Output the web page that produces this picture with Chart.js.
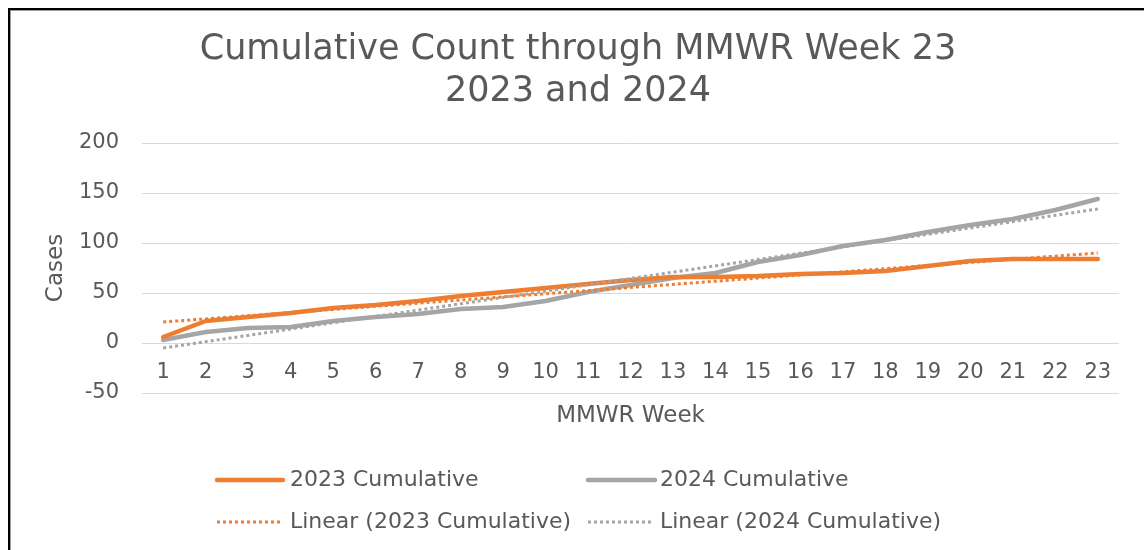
<!DOCTYPE html>
<html>
<head>
<meta charset="utf-8">
<script src="https://cdn.jsdelivr.net/npm/chart.js@4.4.1/dist/chart.umd.min.js"></script>
<style>
  html, body { margin: 0; padding: 0; background: #fff; overflow: hidden; }
  #wrap { position: absolute; left: 0; top: 0; width: 1144px; height: 550px; overflow: hidden; }
  #frame {
    position: absolute; left: 8px; top: 8px; width: 1200px; height: 600px;
    border-top: 2px solid #000; border-left: 2px solid #000;
    box-shadow: inset 1px 1px 0 #9a9a9a;
    pointer-events: none;
  }
</style>
</head>
<body>
<div id="wrap">
  <canvas id="myChart"></canvas>
  <div id="frame"></div>
</div>
<script>
// chart data
const weeks = ['1','2','3','4','5','6','7','8','9','10','11','12','13','14','15','16','17','18','19','20','21','22','23'];
const cum2023 = [6, 22, 26, 30, 35, 38, 42, 47, 51, 55, 59, 63, 66, 66, 67, 69, 70, 72, 77, 82, 84, 84, 84];
const cum2024 = [3, 11, 15, 16, 22, 26, 29, 34, 36, 42, 51, 58, 65, 70, 81, 88, 97, 103, 111, 118, 124, 133, 144];
// trend line ends (week 1 and week 23)
const trendWeeks = ['1', '23'];
const trend2023 = [21, 90];
const trend2024 = [-5, 134];
const yTicks = [-50, 0, 50, 100, 150, 200];

const orange = '#ED7D31';
const gray = '#A5A5A5';
const textColor = '#595959';

Chart.defaults.font.family = 'DejaVu Sans';
Chart.defaults.color = textColor;

// two-column legend like the Excel one
const gridLegend = {
  id: 'gridLegend',
  afterDraw(chart) {
    const ctx = chart.ctx;
    const spots = [
      {x1: 217, x2: 283, tx: 290, y: 480},
      {x1: 588, x2: 655, tx: 660, y: 480},
      {x1: 217, x2: 282, tx: 290, y: 522},
      {x1: 588, x2: 652, tx: 660, y: 522}
    ];
    chart.data.datasets.forEach((ds, i) => {
      const s = spots[i];
      ctx.save();
      ctx.strokeStyle = ds.borderColor;
      ctx.lineWidth = ds.borderWidth;
      ctx.lineCap = ds.borderDash ? 'butt' : 'round';
      ctx.setLineDash(ds.borderDash || []);
      ctx.beginPath();
      ctx.moveTo(s.x1, s.y);
      ctx.lineTo(s.x2, s.y);
      ctx.stroke();
      ctx.setLineDash([]);
      ctx.fillStyle = textColor;
      ctx.font = '22px "DejaVu Sans"';
      ctx.textBaseline = 'middle';
      ctx.textAlign = 'left';
      ctx.fillText(ds.label, s.tx, s.y);
      ctx.restore();
    });
  }
};

function setup() {
  const ctx = document.getElementById('myChart').getContext('2d');
  new Chart(ctx, {
    type: 'line',
    data: {
      labels: weeks,
      datasets: [
        {
          label: '2023 Cumulative',
          data: cum2023,
          borderColor: orange,
          borderWidth: 4.5,
          pointRadius: 0,
          borderCapStyle: 'round',
          borderJoinStyle: 'round',
          order: 2
        },
        {
          label: '2024 Cumulative',
          data: cum2024,
          borderColor: gray,
          borderWidth: 4.5,
          pointRadius: 0,
          borderCapStyle: 'round',
          borderJoinStyle: 'round',
          order: 3
        },
        {
          label: 'Linear (2023 Cumulative)',
          data: trendWeeks.map((w, i) => ({x: w, y: trend2023[i]})),
          borderColor: orange,
          borderWidth: 3,
          borderDash: [3, 3],
          pointRadius: 0,
          order: 1
        },
        {
          label: 'Linear (2024 Cumulative)',
          data: trendWeeks.map((w, i) => ({x: w, y: trend2024[i]})),
          borderColor: gray,
          borderWidth: 3,
          borderDash: [3, 3],
          pointRadius: 0,
          order: 1
        }
      ]
    },
    options: {
      responsive: true,
      maintainAspectRatio: false,
      animation: false,
      layout: { padding: { left: 37, right: 25, top: 0, bottom: 157 } },
      plugins: {
        legend: { display: false },
        tooltip: { enabled: false },
        title: {
          display: true,
          text: ['Cumulative Count through MMWR Week 23', '2023 and 2024'],
          color: textColor,
          font: { size: 35, weight: 'normal', lineHeight: 1.2 },
          padding: { top: 29, bottom: 30 }
        }
      },
      scales: {
        x: {
          type: 'category',
          offset: true,
          position: { y: 0 },
          grid: { display: false, drawTicks: false },
          border: { display: false },
          ticks: { font: { size: 21 }, padding: 17, maxRotation: 0, autoSkip: false },
          title: {
            display: true,
            text: 'MMWR Week',
            font: { size: 23 },
            padding: { top: 0, bottom: 0 }
          }
        },
        y: {
          min: -50,
          max: 200,
          afterBuildTicks: (scale) => { scale.ticks = yTicks.map(v => ({value: v})); },
          afterFit: (scale) => { scale.width = 105; },
          grid: { color: '#D9D9D9', lineWidth: 1, drawTicks: false },
          border: { display: false },
          ticks: { font: { size: 21 }, padding: 23 },
          title: {
            display: true,
            text: 'Cases',
            font: { size: 23 },
            padding: { top: 5, bottom: 0 }
          }
        }
      }
    },
    plugins: [gridLegend]
  });
}

window.addEventListener('load', setup);
</script>
</body>
</html>
